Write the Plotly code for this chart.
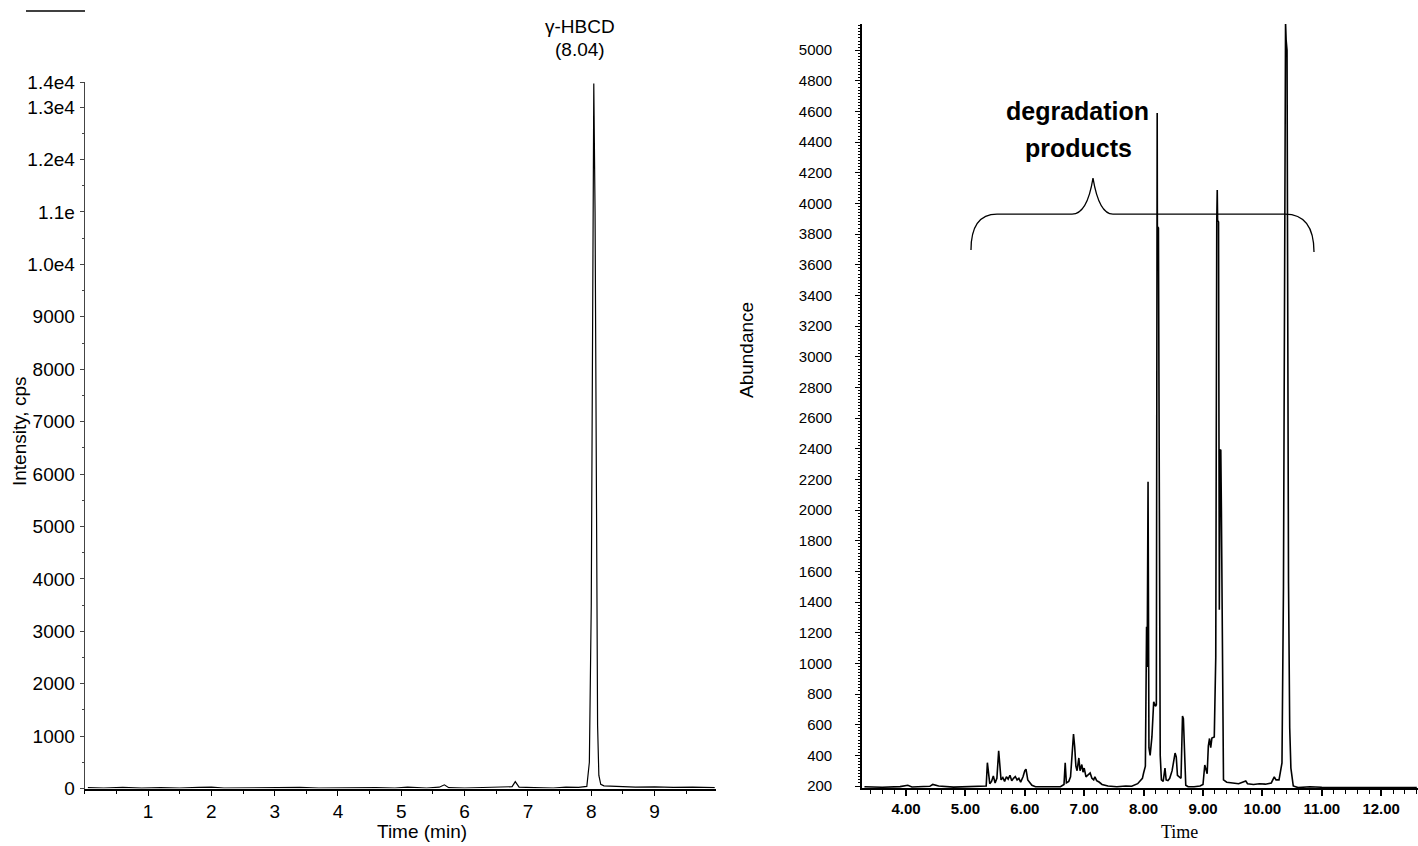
import plotly.graph_objects as go

W, H = 1418, 846

# ---------------- Left chromatogram (LC-MS/MS, gamma-HBCD) ----------------
left_time = [0.05, 0.3, 0.6, 0.9, 1.2, 1.5, 1.8, 2.0, 2.2, 2.5, 2.8, 3.1, 3.4, 3.7,
             4.0, 4.3, 4.6, 4.9, 5.1, 5.4, 5.6, 5.68, 5.75, 6.0, 6.3, 6.6, 6.75, 6.8,
             6.86, 7.1, 7.4, 7.6, 7.8, 7.93, 7.97, 8.0, 8.02, 8.04, 8.06, 8.08, 8.10,
             8.12, 8.15, 8.2, 8.4, 8.7, 9.0, 9.3, 9.6, 9.95]
left_int = [15, 10, 20, 8, 15, 10, 20, 25, 10, 15, 8, 15, 20, 10,
            15, 8, 15, 10, 25, 10, 25, 70, 15, 10, 15, 20, 35, 130,
            25, 15, 10, 25, 20, 40, 500, 3500, 9500, 13450, 11000, 5000, 1200,
            250, 80, 50, 35, 25, 30, 20, 25, 15]

left_xticks = [1, 2, 3, 4, 5, 6, 7, 8, 9]
left_yticks = [0, 1000, 2000, 3000, 4000, 5000, 6000, 7000, 8000, 9000,
               10000, 11000, 12000, 13000, 13480]
left_ylabels = ["0", "1000", "2000", "3000", "4000", "5000", "6000", "7000", "8000",
                "9000", "1.0e4", "1.1e", "1.2e4", "1.3e4", "1.4e4"]

# ---------------- Right chromatogram (GC-MS, degradation products) ----------------
right_time = [3.30, 3.60, 3.90, 4.03, 4.10, 4.40, 4.45, 4.55, 4.80, 5.10, 5.30, 5.35,
              5.37, 5.39, 5.41, 5.44, 5.47, 5.50, 5.53, 5.56, 5.58, 5.60, 5.63, 5.66,
              5.69, 5.72, 5.75, 5.78, 5.81, 5.84, 5.87, 5.90, 5.93, 5.97, 6.00, 6.02,
              6.05, 6.08, 6.12, 6.18, 6.40, 6.60, 6.66, 6.68, 6.70, 6.74, 6.77, 6.79,
              6.81, 6.82, 6.84, 6.86, 6.88, 6.91, 6.93, 6.96, 6.98, 7.00, 7.03, 7.06,
              7.10, 7.13, 7.16, 7.18, 7.21, 7.25, 7.30, 7.40, 7.55, 7.70, 7.80, 7.90,
              7.95, 7.98, 8.00, 8.03, 8.05, 8.06, 8.075, 8.09, 8.11, 8.14, 8.17, 8.20,
              8.215, 8.222, 8.226, 8.229, 8.232, 8.250, 8.262, 8.268, 8.28, 8.30, 8.33,
              8.36, 8.38, 8.41, 8.44, 8.48, 8.51, 8.53, 8.55, 8.57, 8.60, 8.63, 8.655,
              8.67, 8.69, 8.71, 8.75, 8.85, 8.95, 9.00, 9.03, 9.05, 9.07, 9.09, 9.11,
              9.13, 9.15, 9.19, 9.215, 9.232, 9.240, 9.246, 9.262, 9.275, 9.290, 9.300,
              9.310, 9.325, 9.345, 9.40, 9.50, 9.60, 9.72, 9.75, 9.85, 9.95, 10.05,
              10.15, 10.20, 10.23, 10.28, 10.33, 10.355, 10.37, 10.38, 10.39, 10.40,
              10.415, 10.425, 10.44, 10.46, 10.48, 10.52, 10.60, 10.80, 11.00, 11.50,
              12.00, 12.60]
right_abund = [195, 192, 196, 205, 194, 198, 210, 200, 193, 195, 195, 200,
               352, 300, 215, 230, 265, 220, 250, 430, 330, 240, 255, 230,
               260, 245, 270, 235, 250, 262, 240, 250, 225, 260, 300, 310,
               240, 228, 205, 195, 193, 196, 210, 352, 220, 230, 260, 358,
               513, 539, 456, 330, 300, 383, 300, 340, 290, 317, 260, 270,
               285, 250, 240, 260, 235, 226, 210, 200, 195, 200, 198, 215,
               239, 250, 285, 330, 1239, 976, 2185, 450, 400, 520, 750, 720,
               730, 2620, 3850, 4590, 3850, 3840, 1600, 728, 400, 240, 230,
               317, 240, 235, 250, 300, 380, 415, 390, 270, 260, 250, 657,
               640, 420, 205, 195, 195, 200, 210, 337, 300, 280, 460, 510,
               450, 513, 520, 1040, 3890, 4088, 3890, 3880, 1350, 2392, 2390,
               2000, 937, 240, 225, 220, 215, 233, 215, 210, 215, 212,
               220, 259, 240, 240, 350, 1500, 3272, 5066, 5180, 5066,
               5000, 3546, 1525, 580, 317, 200, 190, 195, 192, 190,
               192, 190]

right_xticks = [4, 5, 6, 7, 8, 9, 10, 11, 12]
right_xlabels = ["4.00", "5.00", "6.00", "7.00", "8.00", "9.00", "10.00", "11.00", "12.00"]
right_yticks = list(range(200, 5001, 200))

FONT = "Arial, Liberation Sans, sans-serif"


def px(x):
    return x / W


def py(y):
    return 1 - y / H


fig = go.Figure()
fig.add_trace(go.Scatter(x=left_time, y=left_int, mode="lines",
                         line=dict(color="black", width=1.2), xaxis="x", yaxis="y",
                         showlegend=False, hoverinfo="skip"))
fig.add_trace(go.Scatter(x=right_time, y=right_abund, mode="lines",
                         line=dict(color="black", width=1.6), xaxis="x2", yaxis="y2",
                         showlegend=False, hoverinfo="skip"))

fig.update_layout(
    template="none",
    width=W, height=H, autosize=False,
    margin=dict(l=0, r=0, t=0, b=0, pad=0, autoexpand=False),
    paper_bgcolor="white", plot_bgcolor="white",
    font=dict(family=FONT, color="black"),
    xaxis=dict(domain=[px(84.7), px(716)], range=[0, 9.97], anchor="y", automargin=False,
               tickmode="array", tickvals=left_xticks, ticks="outside", ticklen=5,
               tickcolor="black", showline=True, linecolor="black", linewidth=2,
               showgrid=False, zeroline=False, tickfont=dict(size=19, family=FONT),
               minor=dict(tickmode="linear", tick0=0, dtick=0.5, ticks="outside",
                          ticklen=3, tickcolor="black", showgrid=False)),
    yaxis=dict(domain=[py(788.5), py(82)], range=[0, 13480], anchor="x", automargin=False,
               tickmode="array", tickvals=left_yticks, ticktext=left_ylabels,
               ticks="outside", ticklen=4, tickcolor="#444", showline=True,
               linecolor="#444", linewidth=1, showgrid=False, zeroline=False,
               tickfont=dict(size=19, family=FONT), ticklabelstandoff=1,
               minor=dict(tickmode="linear", tick0=0, dtick=500, ticks="outside",
                          ticklen=2, tickcolor="#444", showgrid=False)),
    xaxis2=dict(domain=[px(862), 1.0], range=[3.259, 12.62], anchor="y2", automargin=False,
                tickmode="array", tickvals=right_xticks, ticktext=right_xlabels,
                ticks="outside", ticklen=6, tickcolor="black", tickwidth=1.5,
                showline=True, linecolor="black", linewidth=1.8, showgrid=False,
                zeroline=False, tickfont=dict(size=15, family=FONT, weight="bold"),
                minor=dict(tickmode="linear", tick0=0, dtick=0.2, ticks="outside",
                           ticklen=4, tickcolor="black", tickwidth=1.2, showgrid=False)),
    yaxis2=dict(domain=[py(788), py(24)], range=[187, 5171], anchor="x2", automargin=False,
                tickmode="array", tickvals=right_yticks, ticks="outside", ticklen=5,
                tickcolor="black", tickwidth=1.2, showline=True, linecolor="black",
                linewidth=1.6, showgrid=False, zeroline=False,
                tickfont=dict(size=15, family=FONT), ticklabelstandoff=20,
                minor=dict(tickmode="linear", tick0=0, dtick=20, ticks="outside",
                           ticklen=2, tickcolor="black", showgrid=False)),
)

annotations = [
    dict(text="γ-HBCD", x=px(580), y=py(26), font=dict(size=19)),
    dict(text="(8.04)", x=px(580), y=py(49), font=dict(size=19)),
    dict(text="Time (min)", x=px(422), y=py(831), font=dict(size=19)),
    dict(text="Intensity, cps", x=px(20), y=py(432), font=dict(size=19), textangle=-90),
    dict(text="degradation", x=px(1077), y=py(111), font=dict(size=25, weight="bold")),
    dict(text="products", x=px(1078), y=py(148), font=dict(size=25, weight="bold")),
    dict(text="Time", x=px(1179), y=py(832),
         font=dict(size=18, family="Liberation Serif, Times New Roman, serif")),
    dict(text="Abundance", x=px(746), y=py(350), font=dict(size=19), textangle=-90),
]
for a in annotations:
    a.update(xref="paper", yref="paper", showarrow=False, xanchor="center",
             yanchor="middle")
fig.update_layout(annotations=annotations)

brace = ("M 5.094,3696 Q 5.094,3931 5.532,3931 L 6.795,3931 "
         "Q 7.05,3931 7.148,4166 Q 7.25,3931 7.485,3931 L 10.38,3931 "
         "Q 10.869,3931 10.869,3683")
fig.add_shape(type="path", path=brace, xref="x2", yref="y2",
              line=dict(color="black", width=1.3))
fig.add_shape(type="line", xref="paper", yref="paper", x0=px(26), x1=px(85),
              y0=py(11), y1=py(11), line=dict(color="black", width=1.5))

fig.write_html("out.html")
